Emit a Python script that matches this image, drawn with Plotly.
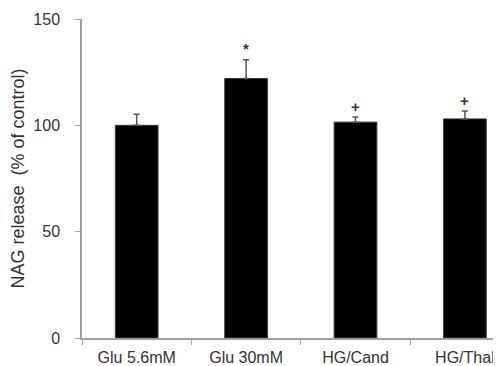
import plotly.graph_objects as go

categories = ["Glu 5.6mM", "Glu 30mM", "HG/Cand", "HG/Thal"]
values = [100, 122, 101.5, 103]
errors = [5.2, 8.8, 2.4, 3.7]
marks = ["", "*", "+", "+"]
y_ticks = [0, 50, 100, 150]

fig = go.Figure()
fig.add_trace(go.Bar(
    x=categories, y=values,
    marker=dict(color="black", line=dict(color="#333333", width=1)),
    width=0.39,
    error_y=dict(type="data", symmetric=False, array=errors,
                 arrayminus=[0] * len(errors), color="#555555",
                 thickness=1.5, width=3),
))

for c, v, e, m in zip(categories, values, errors, marks):
    if m:
        fig.add_annotation(x=c, y=v + e, text="<b>" + m + "</b>", showarrow=False,
                           yanchor="middle", yshift=11,
                           font=dict(family="Arial, Liberation Sans", size=15, color="#333333"))

tick_font = dict(family="Arial, Liberation Sans", size=16, color="#333333")
# page body has an 8px default margin, so the figure is shrunk by it
fig.update_layout(
    width=493, height=358,
    margin=dict(l=74, r=0, t=11, b=28),
    plot_bgcolor="white", paper_bgcolor="white",
    showlegend=False,
    xaxis=dict(range=[-0.5, 3.33], showline=True, linecolor="#a0a0a0", linewidth=1.5,
               ticks="outside", tickson="boundaries", ticklen=5, tickcolor="#a0a0a0",
               tickfont=tick_font, showgrid=False, zeroline=False,
               ticklabelstandoff=4),
    yaxis=dict(range=[0, 150], tickvals=y_ticks, showline=True, linecolor="#a0a0a0",
               linewidth=1.5, ticks="outside", ticklen=5, tickcolor="#a0a0a0",
               tickfont=tick_font, showgrid=False, zeroline=False,
               ticklabelstandoff=12,
               title=dict(text="NAG release  (% of control)", standoff=8,
                          font=dict(family="Arial, Liberation Sans", size=18, color="#333333"))),
)

fig.write_html("out.html")
